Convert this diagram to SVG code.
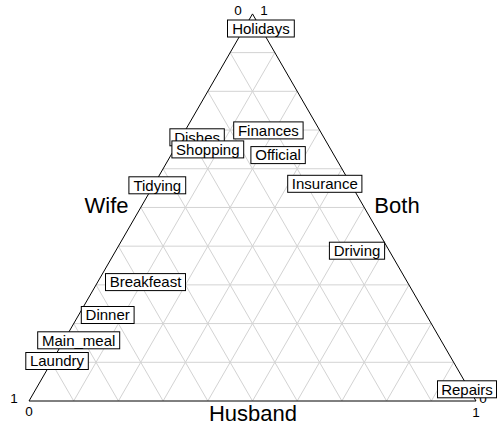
<svg xmlns="http://www.w3.org/2000/svg" width="498" height="429" viewBox="0 0 498 429">
<style>
  .grid line { stroke: #d3d3d3; stroke-width: 1; }
  .axis { stroke: #000; stroke-width: 1; fill: none; }
  .lab rect { fill: #fff; stroke: #000; stroke-width: 1; }
  .lab text { font-family: "Liberation Sans", Arial, sans-serif; font-size: 15px; text-anchor: middle; fill: #000; }
  .tick { font-family: "Liberation Sans", Arial, sans-serif; font-size: 13.5px; text-anchor: middle; fill: #000; }
  .title { font-family: "Liberation Sans", Arial, sans-serif; font-size: 22px; text-anchor: middle; fill: #000; }
</style>
<rect width="498" height="429" fill="#fff"/>
<g id="connectors">
  <g class="grid">
    <line x1="51.35" y1="362.29" x2="453.65" y2="362.29"/>
    <line x1="73.7" y1="323.58" x2="431.3" y2="323.58"/>
    <line x1="96.05" y1="284.87" x2="408.95" y2="284.87"/>
    <line x1="118.4" y1="246.16" x2="386.6" y2="246.16"/>
    <line x1="140.75" y1="207.45" x2="364.25" y2="207.45"/>
    <line x1="163.1" y1="168.74" x2="341.9" y2="168.74"/>
    <line x1="185.45" y1="130.03" x2="319.55" y2="130.03"/>
    <line x1="207.8" y1="91.32" x2="297.2" y2="91.32"/>
    <line x1="230.15" y1="52.61" x2="274.85" y2="52.61"/>
    <line x1="73.7" y1="401" x2="274.85" y2="52.61"/>
    <line x1="118.4" y1="401" x2="297.2" y2="91.32"/>
    <line x1="163.1" y1="401" x2="319.55" y2="130.03"/>
    <line x1="207.8" y1="401" x2="341.9" y2="168.74"/>
    <line x1="252.5" y1="401" x2="364.25" y2="207.45"/>
    <line x1="297.2" y1="401" x2="386.6" y2="246.16"/>
    <line x1="341.9" y1="401" x2="408.95" y2="284.87"/>
    <line x1="386.6" y1="401" x2="431.3" y2="323.58"/>
    <line x1="431.3" y1="401" x2="453.65" y2="362.29"/>
    <line x1="431.3" y1="401" x2="230.15" y2="52.61"/>
    <line x1="386.6" y1="401" x2="207.8" y2="91.32"/>
    <line x1="341.9" y1="401" x2="185.45" y2="130.03"/>
    <line x1="297.2" y1="401" x2="163.1" y2="168.74"/>
    <line x1="252.5" y1="401" x2="140.75" y2="207.45"/>
    <line x1="207.8" y1="401" x2="118.4" y2="246.16"/>
    <line x1="163.1" y1="401" x2="96.05" y2="284.87"/>
    <line x1="118.4" y1="401" x2="73.7" y2="323.58"/>
    <line x1="73.7" y1="401" x2="51.35" y2="362.29"/>
  </g>
  <polygon class="axis" points="29,401 476,401 252.5,13.9"/>
</g>
<g id="axis-labels">
  <text class="tick" x="238" y="15">0</text>
  <text class="tick" x="264" y="15">1</text>
  <text class="tick" x="14" y="403">1</text>
  <text class="tick" x="29" y="416">0</text>
  <text class="tick" x="483" y="403">0</text>
  <text class="tick" x="476" y="417">1</text>
  <text class="title" x="106.5" y="213">Wife</text>
  <text class="title" x="397" y="213">Both</text>
  <text class="title" x="253" y="421">Husband</text>
</g>
<g id="Laundry" class="lab"><rect x="25.8" y="352.5" width="62.5" height="17"/><text x="57" y="366.3">Laundry</text></g>
<g id="Main_meal" class="lab"><rect x="37.7" y="331.8" width="82" height="17"/><text x="78.7" y="345.6">Main_meal</text></g>
<g id="Dinner" class="lab"><rect x="81.3" y="306.5" width="52.8" height="17"/><text x="107.7" y="320.3">Dinner</text></g>
<g id="Breakfeast" class="lab"><rect x="105.5" y="273.6" width="80" height="17"/><text x="145.5" y="287.4">Breakfeast</text></g>
<g id="Tidying" class="lab"><rect x="128.9" y="176.8" width="56.8" height="17"/><text x="157.3" y="190.6">Tidying</text></g>
<g id="Dishes" class="lab"><rect x="169.9" y="128.8" width="54.4" height="17"/><text x="197.1" y="142.6">Dishes</text></g>
<g id="Shopping" class="lab"><rect x="171.9" y="140.9" width="71.8" height="17"/><text x="207.8" y="154.7">Shopping</text></g>
<g id="Official" class="lab"><rect x="250.9" y="146.6" width="54.4" height="17"/><text x="278.1" y="160.4">Official</text></g>
<g id="Driving" class="lab"><rect x="329.4" y="242.2" width="55.2" height="17"/><text x="357" y="256">Driving</text></g>
<g id="Finances" class="lab"><rect x="233.7" y="121.9" width="69.4" height="17"/><text x="268.4" y="135.7">Finances</text></g>
<g id="Insurance" class="lab"><rect x="287.7" y="175.3" width="74.2" height="17"/><text x="324.8" y="189.1">Insurance</text></g>
<g id="Repairs" class="lab"><rect x="437.5" y="380.8" width="59" height="17"/><text x="467" y="394.6">Repairs</text></g>
<g id="Holidays" class="lab"><rect x="227.5" y="20" width="66.8" height="17"/><text x="260.9" y="33.8">Holidays</text></g>
</svg>
